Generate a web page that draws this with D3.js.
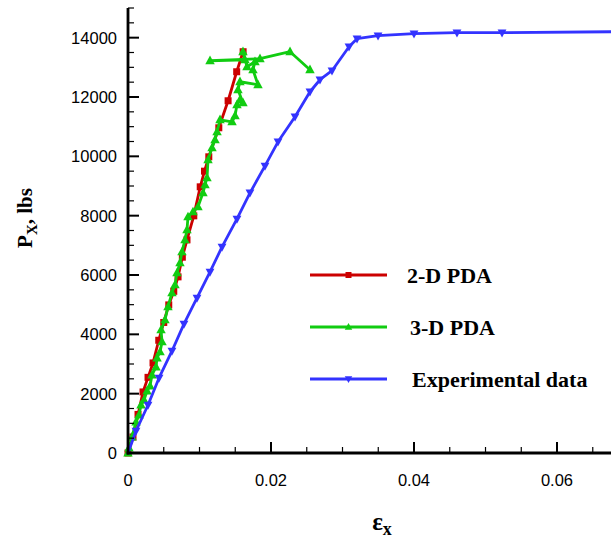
<!DOCTYPE html>
<html>
<head>
<meta charset="utf-8">
<script src="https://cdn.jsdelivr.net/npm/d3@7"></script>
<style>
  html, body { margin: 0; padding: 0; background: #fff; }
  svg { display: block; }
</style>
</head>
<body>
<div id="chart"></div>
<script>
// ---- data ----
const seriesNames = ["2-D PDA", "3-D PDA", "Experimental data"];

const strain2D = [0, 0.0007, 0.0014, 0.0021, 0.0028, 0.0035, 0.0043, 0.0050, 0.0057, 0.0064, 0.0070, 0.0076, 0.00825, 0.0092, 0.0101, 0.0107, 0.0113, 0.0127, 0.0140, 0.0152, 0.0161];
const load2D   = [0, 540, 1300, 2058, 2550, 3036, 3800, 4400, 4992, 5450, 5937, 6600, 7185, 7994, 8972, 9500, 9984, 10962, 11873, 12851, 13526];

const strain3D = [0, 0.00014, 0.00056, 0.00112, 0.00154, 0.00182, 0.00224, 0.00266, 0.00308, 0.00336, 0.00392, 0.00406, 0.00448, 0.00476, 0.00462, 0.00517, 0.00559, 0.00615, 0.00657, 0.00685, 0.00727, 0.00755, 0.00797, 0.00825, 0.00839, 0.00909, 0.00979, 0.01049, 0.01077, 0.01105, 0.01119, 0.01175, 0.01217, 0.01245, 0.01287, 0.01455, 0.01497, 0.01524, 0.01566, 0.01608, 0.01538, 0.01566, 0.01818, 0.01748, 0.01776, 0.01664, 0.01608, 0.01636, 0.01147, 0.01846, 0.02266, 0.02545];
const load3D   = [0, 169, 540, 1046, 1282, 1619, 1788, 2091, 2260, 2631, 2901, 3204, 3407, 3744, 4149, 4486, 4925, 5397, 5667, 6071, 6409, 6780, 7184, 7522, 7960, 8129, 8298, 8770, 9040, 9276, 9883, 10288, 10557, 10827, 11232, 11165, 11367, 11738, 11907, 11806, 12244, 12514, 12413, 12919, 13188, 13020, 13526, 13256, 13222, 13290, 13526, 12919];

const strainExp = [0, 0.00112, 0.0028, 0.00434, 0.00615, 0.00783, 0.00965, 0.01147, 0.01315, 0.01524, 0.01706, 0.01916, 0.02098, 0.02336, 0.02545, 0.02685, 0.02853, 0.03091, 0.03203, 0.03497, 0.0400, 0.04601, 0.05231, 0.0680];
const loadExp   = [0, 742, 1619, 2530, 3440, 4351, 5228, 6105, 6948, 7893, 8770, 9680, 10490, 11333, 12177, 12582, 12885, 13694, 13964, 14066, 14133, 14167, 14167, 14200];

const xTicks = [0, 0.02, 0.04, 0.06];
const yTicks = [0, 2000, 4000, 6000, 8000, 10000, 12000, 14000];

// ---- layout ----
const W = 611, H = 546;
const colors = ["#cc0000", "#11cc11", "#3333ff"];

const svg = d3.select("#chart").append("svg").attr("width", W).attr("height", H);

const x = d3.scaleLinear().domain([0, 0.06755]).range([128, 611]);
const y = d3.scaleLinear().domain([0, 15000]).range([453, 8]);

const plot = svg.append("g");
svg.append("clipPath").attr("id", "clip")
  .append("rect").attr("x", 120).attr("y", 0).attr("width", W - 120).attr("height", 460);

const line = d3.line().x(d => x(d[0])).y(d => y(d[1]));

const series = [
  { pts: d3.zip(strain2D, load2D), color: colors[0], marker: "square", size: 3.5 },
  { pts: d3.zip(strain3D, load3D), color: colors[1], marker: "up", size: 4.3 },
  { pts: d3.zip(strainExp, loadExp), color: colors[2], marker: "down", size: 4 }
];

function markerPath(type, s) {
  if (type === "square") return `M${-s},${-s}h${2*s}v${2*s}h${-2*s}Z`;
  if (type === "up") return `M0,${-s*1.2}L${s*1.1},${s*0.8}L${-s*1.1},${s*0.8}Z`;
  return `M0,${s*1.2}L${s*1.1},${-s*0.8}L${-s*1.1},${-s*0.8}Z`;
}

const gData = plot.append("g").attr("clip-path", "url(#clip)");
series.forEach(s => {
  gData.append("path").datum(s.pts)
    .attr("fill", "none").attr("stroke", s.color).attr("stroke-width", 2.8)
    .attr("stroke-linejoin", "round").attr("d", line);
  const mk = s.marker === "down" ? s.pts.slice(1, -1) : s.pts;
  gData.selectAll(null).data(mk).enter().append("path")
    .attr("transform", d => `translate(${x(d[0])},${y(d[1])})`)
    .attr("d", markerPath(s.marker, s.size))
    .attr("fill", s.color);
});

// ---- axes ----
const axG = svg.append("g").attr("stroke", "#000");
d3.range(0, 15001, 500).forEach(v => {
  const major = v % 2000 === 0;
  axG.append("line").attr("x1", 128).attr("x2", 128 + (major ? 11 : 6))
    .attr("y1", y(v)).attr("y2", y(v)).attr("stroke-width", major ? 2 : 1.2);
});
d3.range(0, 0.0676, 0.005).forEach(v => {
  const major = Math.abs(v / 0.02 - Math.round(v / 0.02)) < 1e-6;
  axG.append("line").attr("y1", 453).attr("y2", 453 - (major ? 11 : 6))
    .attr("x1", x(v)).attr("x2", x(v)).attr("stroke-width", major ? 2 : 1.2);
});
axG.append("line").attr("x1", 128).attr("x2", 128).attr("y1", 8).attr("y2", 454.5).attr("stroke-width", 2.8);
axG.append("line").attr("x1", 126.6).attr("x2", 611).attr("y1", 453).attr("y2", 453).attr("stroke-width", 2.8);

const tickFont = "'Liberation Sans', Arial, sans-serif";
svg.append("g").selectAll("text").data(yTicks).enter().append("text")
  .attr("x", 117).attr("y", d => y(d) + 6).attr("text-anchor", "end")
  .attr("font-family", tickFont).attr("font-size", 16.5).text(d => d);
svg.append("g").selectAll("text").data(xTicks).enter().append("text")
  .attr("x", d => x(d)).attr("y", 486).attr("text-anchor", "middle")
  .attr("font-family", tickFont).attr("font-size", 16.5).text(d => d);

// axis titles
const serif = "'Liberation Serif', 'Times New Roman', serif";
const yl = svg.append("text").attr("transform", "translate(32,218) rotate(-90)")
  .attr("text-anchor", "middle").attr("font-family", serif).attr("font-weight", "bold").attr("font-size", 21);
yl.append("tspan").text("P");
yl.append("tspan").attr("font-size", 15).attr("dy", 5).text("X");
yl.append("tspan").attr("dy", -5).text(", lbs");

const xl = svg.append("text").attr("x", 382).attr("y", 530)
  .attr("text-anchor", "middle").attr("font-family", serif).attr("font-weight", "bold").attr("font-size", 25);
xl.append("tspan").text("ε");
xl.append("tspan").attr("font-size", 18).attr("dy", 5).text("x");

// ---- legend ----
const legY = [275, 327, 379];
const legTX = [407, 410, 412];
const leg = svg.append("g");
series.forEach((s, i) => {
  leg.append("line").attr("x1", 310).attr("x2", 387).attr("y1", legY[i]).attr("y2", legY[i])
    .attr("stroke", s.color).attr("stroke-width", 2.8);
  leg.append("path").attr("transform", `translate(348.5,${legY[i]})`)
    .attr("d", markerPath(s.marker, s.marker === "square" ? 3 : 3.4)).attr("fill", s.color);
  leg.append("text").attr("x", legTX[i]).attr("y", legY[i] + 8)
    .attr("font-family", serif).attr("font-weight", "bold").attr("font-size", 22).text(seriesNames[i]);
});
</script>
</body>
</html>
